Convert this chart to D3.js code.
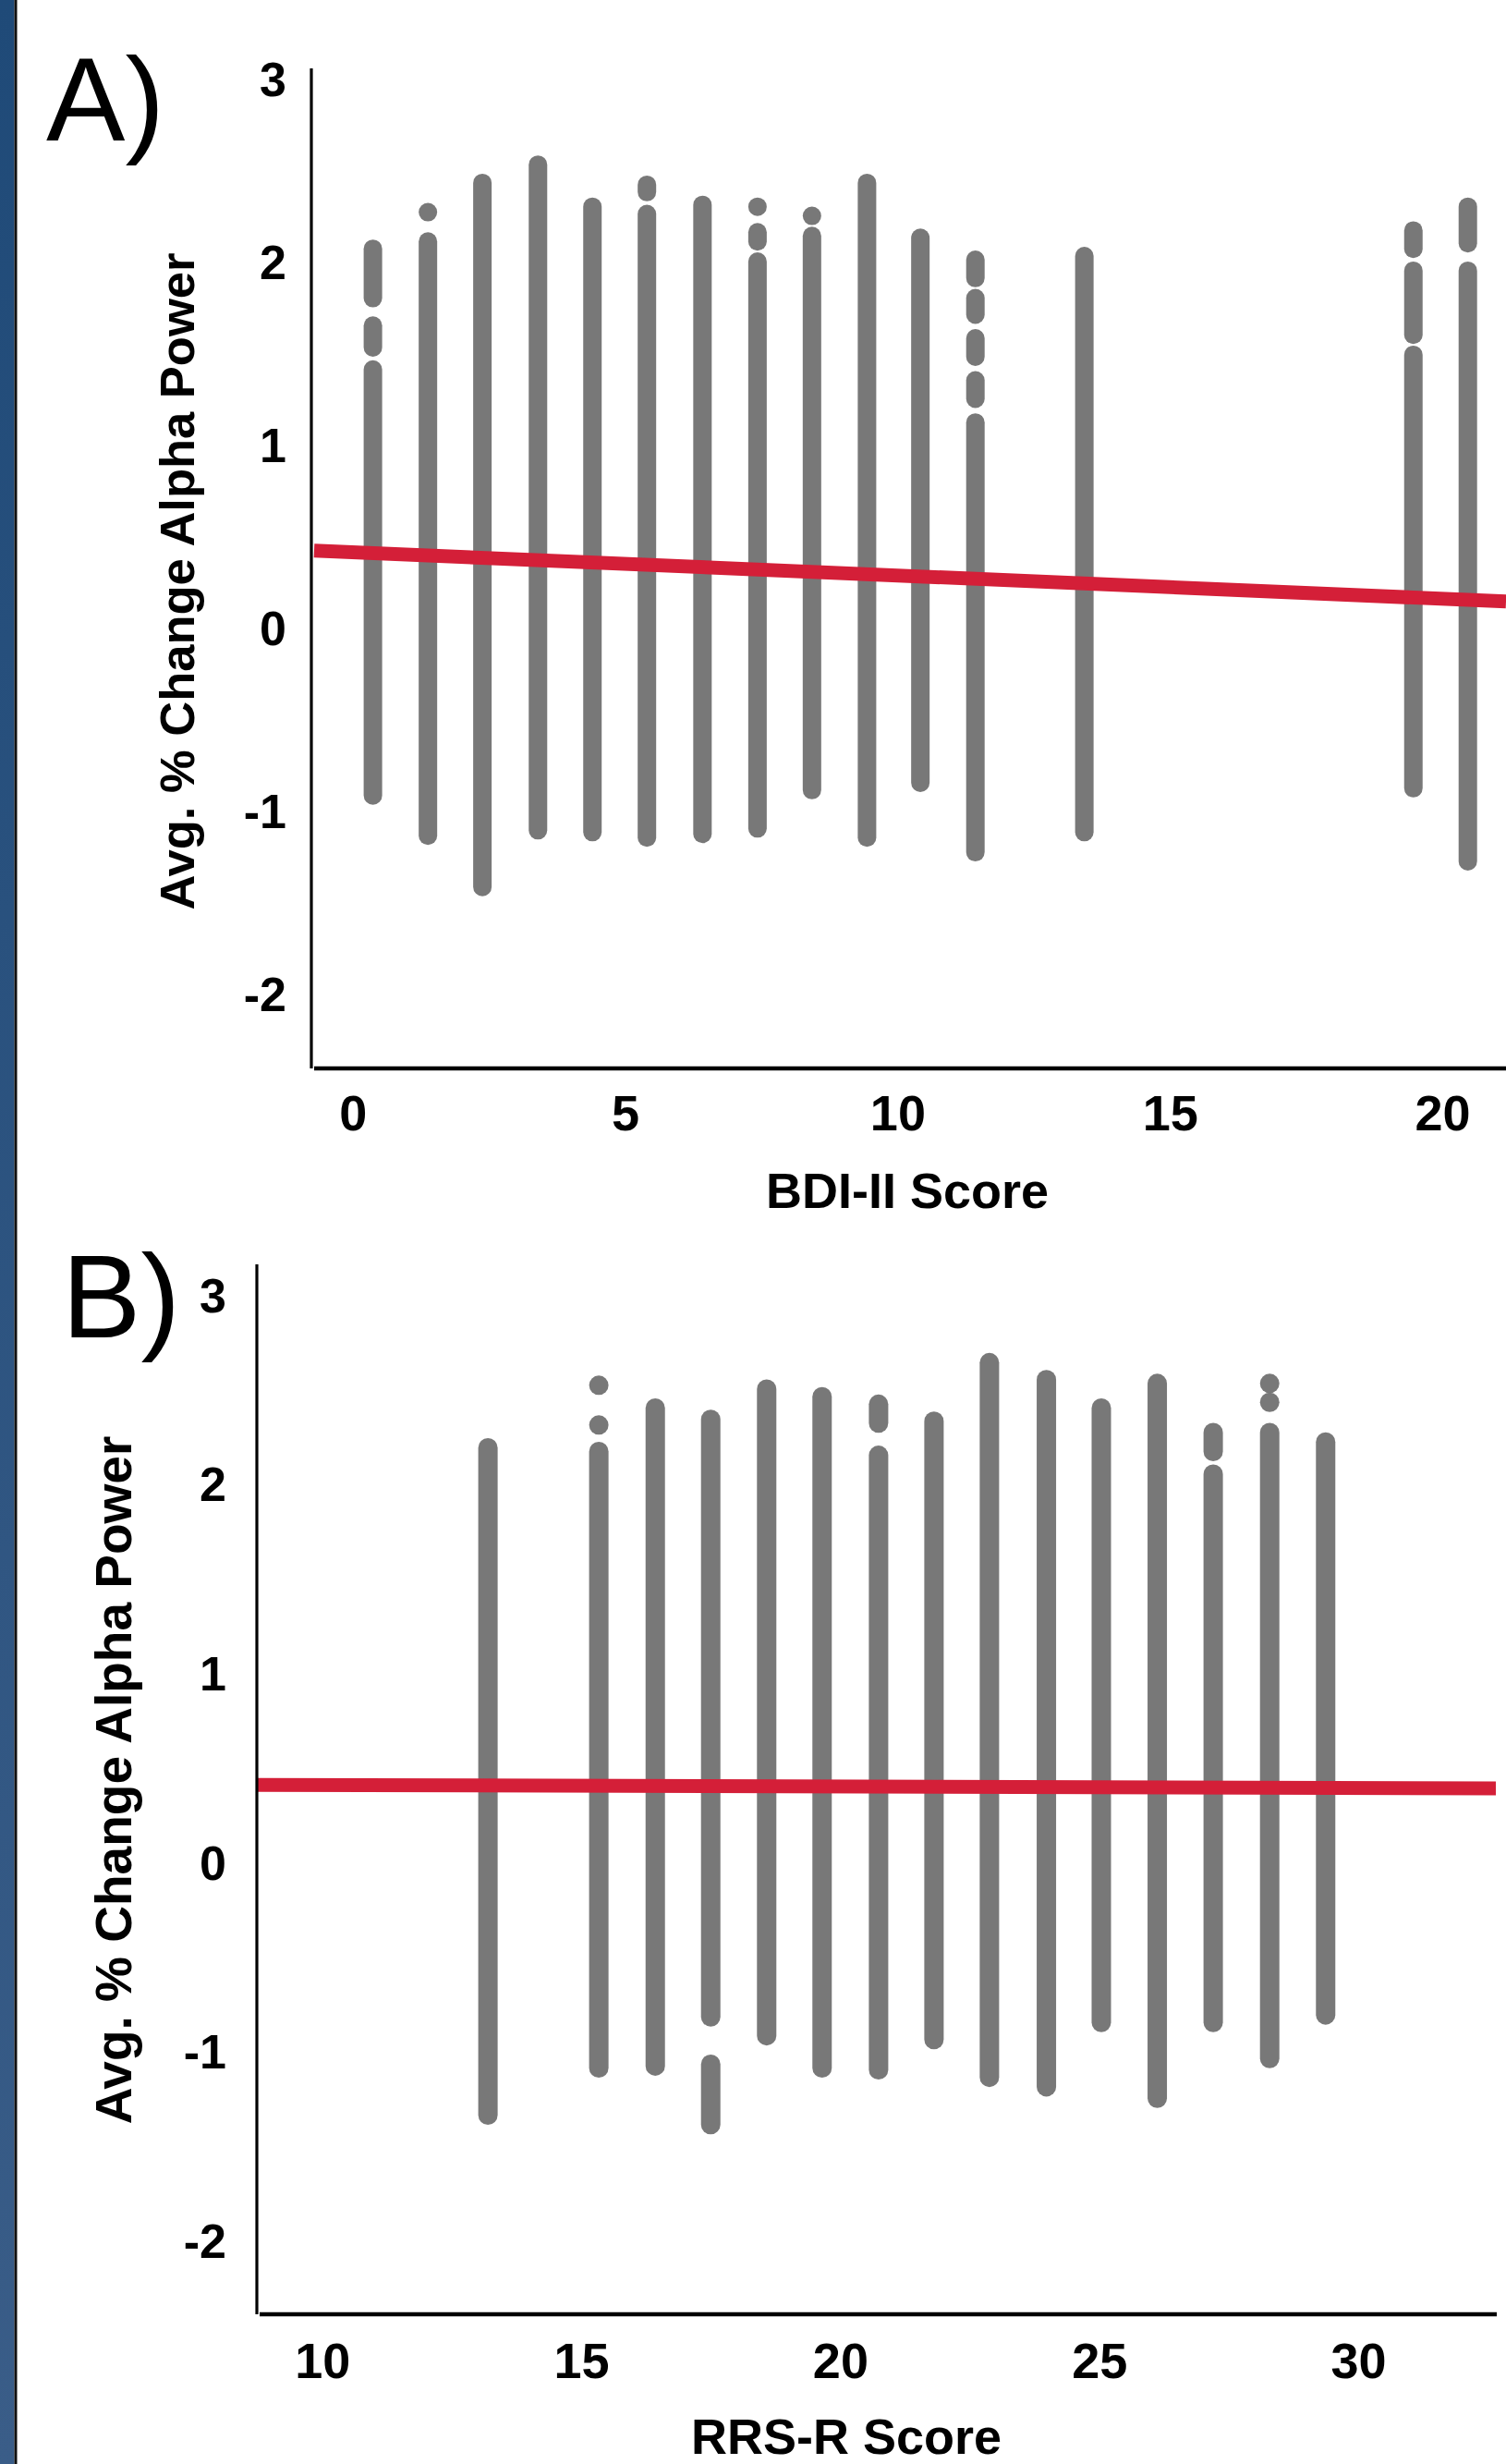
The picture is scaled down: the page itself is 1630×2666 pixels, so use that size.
<!DOCTYPE html>
<html><head><meta charset="utf-8">
<script src="https://cdn.jsdelivr.net/npm/d3@7"></script>
<style>body{margin:0;background:#fff}svg{display:block}</style>
</head><body>
<svg id="chart" width="1630" height="2666"></svg>
<script>
// ---------- Panel A: BDI-II ----------
const bdiTicks = [0, 5, 10, 15, 20];
const alphaTicks = [-2, -1, 0, 1, 2, 3];
const bdiScores = [0.37, 1.38, 2.38, 3.40, 4.40, 5.40, 6.42, 7.43, 8.43, 9.44, 10.42, 11.43, 13.43, 19.47, 20.47];
// each score column: runs of overlapping points, [top, bottom] in % change
const bdiRuns = [
  [[2.08, 1.81], [1.66, 1.54], [1.42, -0.91]],
  [[2.28, 2.28], [2.12, -1.13]],
  [[2.44, -1.41]],
  [[2.54, -1.10]],
  [[2.31, -1.11]],
  [[2.43, 2.39], [2.27, -1.14]],
  [[2.32, -1.12]],
  [[2.31, 2.31], [2.17, 2.12], [2.01, -1.09]],
  [[2.26, 2.26], [2.15, -0.88]],
  [[2.44, -1.14]],
  [[2.14, -0.84]],
  [[2.02, 1.92], [1.81, 1.72], [1.59, 1.49], [1.36, 1.26], [1.13, -1.22]],
  [[2.04, -1.11]],
  [[2.18, 2.08], [1.96, 1.61], [1.50, -0.87]],
  [[2.31, 2.11], [1.96, -1.27]]
];
const bdiFit = {intercept: 0.4205, slope: -0.01273};

// ---------- Panel B: RRS-R ----------
const rrsTicks = [10, 15, 20, 25, 30];
const rrsScores = [13.20, 15.34, 16.43, 17.50, 18.58, 19.65, 20.74, 21.81, 22.88, 23.98, 25.04, 26.12, 27.20, 28.29, 29.37];
const rrsRuns = [
  [[2.20, -1.33]],
  [[2.53, 2.53], [2.32, 2.32], [2.18, -1.08]],
  [[2.41, -1.07]],
  [[2.35, -0.81], [-1.06, -1.38]],
  [[2.51, -0.91]],
  [[2.47, -1.08]],
  [[2.43, 2.33], [2.16, -1.09]],
  [[2.34, -0.93]],
  [[2.65, -1.13]],
  [[2.56, -1.18]],
  [[2.41, -0.84]],
  [[2.54, -1.24]],
  [[2.28, 2.18], [2.06, -0.84]],
  [[2.54, 2.54], [2.44, 2.44], [2.28, -1.03]],
  [[2.23, -0.80]]
];
const rrsFit = {intercept: 0.424, slope: -0.0008};

const yTitle = "Avg. % Change Alpha Power";
const FONT = "'Liberation Sans', Arial, Helvetica, sans-serif";
const DOT = "#787878", RED = "#d41f38";

const svg = d3.select("#chart");
svg.append("rect").attr("width", 1630).attr("height", 2666).attr("fill", "#fff");

// left side strip
const defs = svg.append("defs");
const grad = defs.append("linearGradient").attr("id", "strip").attr("x1", 0).attr("y1", 0).attr("x2", 0).attr("y2", 1);
grad.append("stop").attr("offset", "0%").attr("stop-color", "#1f4a78");
grad.append("stop").attr("offset", "100%").attr("stop-color", "#3a5d88");
svg.append("rect").attr("x", 0).attr("y", 0).attr("width", 15.5).attr("height", 2666).attr("fill", "url(#strip)");
svg.append("rect").attr("x", 15.5).attr("y", 0).attr("width", 3).attr("height", 2666).attr("fill", "#111");

function panel(o) {
  const g = svg.append("g");
  const x = d3.scaleLinear().domain(o.xDomain).range(o.xRange);
  const y = d3.scaleLinear().domain([-2, 3]).range(o.yRange);
  const r = o.r;

  // point columns
  o.scores.forEach((s, i) => {
    g.selectAll(null).data(o.runs[i]).join("rect")
      .attr("x", x(s) - r)
      .attr("y", d => y(d[0]) - r)
      .attr("width", 2 * r)
      .attr("height", d => y(d[1]) - y(d[0]) + 2 * r)
      .attr("rx", r).attr("ry", r)
      .attr("fill", DOT);
  });

  // regression line
  const xs = [x.invert(o.lineX[0]), x.invert(o.lineX[1])];
  g.append("line")
    .attr("x1", x(xs[0])).attr("y1", y(o.fit.intercept + o.fit.slope * xs[0]))
    .attr("x2", x(xs[1])).attr("y2", y(o.fit.intercept + o.fit.slope * xs[1]))
    .attr("stroke", RED).attr("stroke-width", 15);

  // axis lines
  g.append("line").attr("x1", o.axisX).attr("x2", o.axisX).attr("y1", o.axisTop).attr("y2", o.axisY)
    .attr("stroke", "#000").attr("stroke-width", 3.2);
  g.append("line").attr("x1", o.axisX + 3).attr("x2", o.xAxisEnd).attr("y1", o.axisY).attr("y2", o.axisY)
    .attr("stroke", "#000").attr("stroke-width", 4.5);

  // x ticks
  const xa = g.append("g").attr("transform", `translate(0,${o.axisY})`)
    .call(d3.axisBottom(x).tickValues(o.xTicks).tickSize(0).tickPadding(o.xPad).tickFormat(d => String(d)));
  xa.select(".domain").remove();
  xa.selectAll("text").attr("font-family", FONT).attr("font-weight", "bold").attr("font-size", 54).attr("fill", "#000");

  // y ticks
  const ya = g.append("g").attr("transform", `translate(${o.axisX},0)`)
    .call(d3.axisLeft(y).tickValues(alphaTicks).tickSize(0).tickPadding(o.yPad).tickFormat(d => String(d)));
  ya.select(".domain").remove();
  ya.selectAll("text").attr("font-family", FONT).attr("font-weight", "bold").attr("font-size", 52).attr("fill", "#000");

  // titles
  g.append("text").attr("x", o.xTitle[0]).attr("y", o.xTitle[1]).attr("text-anchor", "middle")
    .attr("font-family", FONT).attr("font-weight", "bold").attr("font-size", 54).text(o.xLabel);
  g.append("text").attr("transform", `translate(${o.yTitle[0]},${o.yTitle[1]}) rotate(-90)`)
    .attr("text-anchor", "middle").attr("font-family", FONT).attr("font-weight", "bold")
    .attr("font-size", o.yTitleSize).text(yTitle);
  g.append("text").attr("x", o.tag[0]).attr("y", o.tag[1])
    .attr("font-family", FONT).attr("font-size", 128).text(o.tagText);
}

panel({
  xDomain: [0, 20], xRange: [381.8, 1561], yRange: [1076.4, 87.15], r: 10,
  scores: bdiScores, runs: bdiRuns, fit: bdiFit, lineX: [340, 1630],
  axisX: 337, axisTop: 74, axisY: 1156, xAxisEnd: 1630,
  xTicks: bdiTicks, xPad: 29, yPad: 27,
  xLabel: "BDI-II Score", xTitle: [982, 1307], yTitle: [210, 629], yTitleSize: 52.5,
  tag: [50, 152], tagText: "A)"
});

panel({
  xDomain: [10, 30], xRange: [348.7, 1470.1], yRange: [2425.7, 1402.7], r: 10.5,
  scores: rrsScores, runs: rrsRuns, fit: rrsFit, lineX: [279, 1619],
  axisX: 278, axisTop: 1368, axisY: 2504, xAxisEnd: 1620,
  xTicks: rrsTicks, xPad: 31, yPad: 33,
  xLabel: "RRS-R Score", xTitle: [916, 2655], yTitle: [142, 1926], yTitleSize: 55,
  tag: [67, 1447], tagText: "B)"
});
</script>
</body></html>
